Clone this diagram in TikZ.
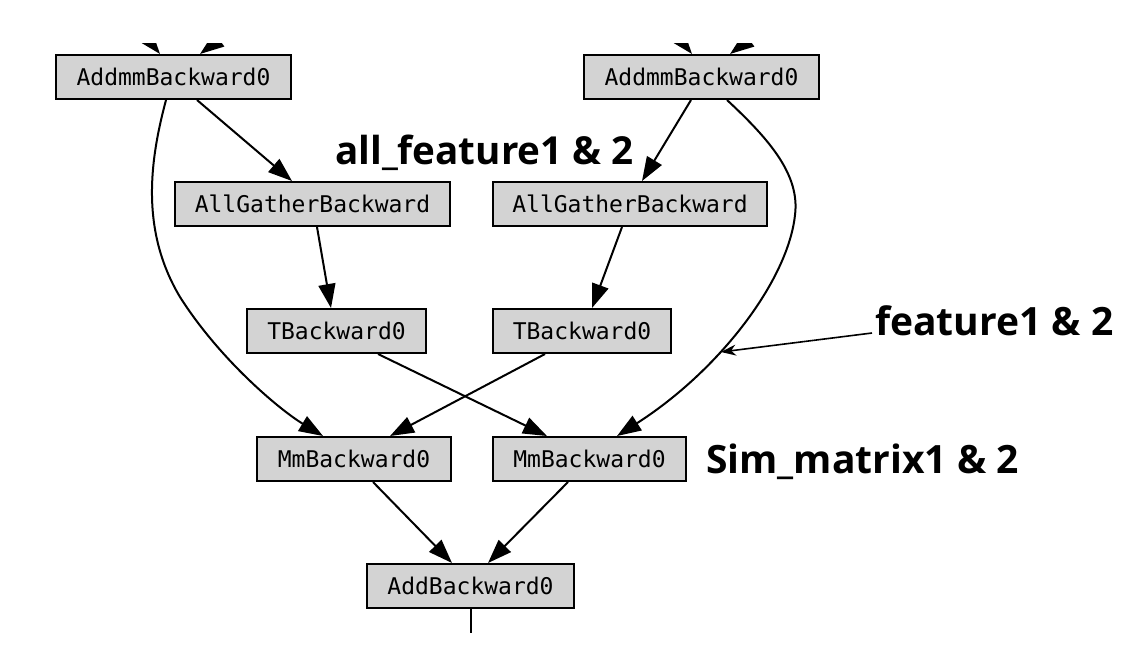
\documentclass[tikz,border=0pt]{standalone}
\usepackage{fontspec}
\newfontfamily\nodemono{DejaVu Sans Mono}
\newfontfamily\labfont{Open Sans}
\usetikzlibrary{arrows.meta}
\definecolor{boxgray}{RGB}{211,211,211}
\tikzset{
  gnode/.style={draw=black, line width=2pt, fill=boxgray, minimum height=44pt,
    inner sep=0pt, font=\nodemono\fontsize{23}{26}\selectfont},
  gedge/.style={line width=2pt, -{Triangle[length=24pt,width=17pt]}},
  glabel/.style={inner sep=0pt, font=\labfont\bfseries\fontsize{39}{44}\selectfont},
  pointer/.style={line width=1.6pt, -{Stealth[length=15pt,width=11pt]}}
}
\begin{document}
\begin{tikzpicture}[x=1pt,y=-1pt]
\useasboundingbox (0,0) rectangle (1147,670);
% nodes
\node[gnode, minimum width=235pt] (A1) at (173.5,77) {AddmmBackward0};
\node[gnode, minimum width=235pt] (A2) at (701.5,77) {AddmmBackward0};
\node[gnode, minimum width=275pt] (G1) at (312.5,204) {AllGatherBackward};
\node[gnode, minimum width=274pt] (G2) at (630,204) {AllGatherBackward};
\node[gnode, minimum width=179pt] (T1) at (336.5,331) {TBackward0};
\node[gnode, minimum width=178pt] (T2) at (582,331) {TBackward0};
\node[gnode, minimum width=194pt] (M1) at (354,459) {MmBackward0};
\node[gnode, minimum width=193pt] (M2) at (589.5,459) {MmBackward0};
\node[gnode, minimum width=207pt] (Ad) at (470.5,586) {AddBackward0};
% labels
\node[glabel, anchor=base west, font=\labfont\bfseries\fontsize{38.6}{44}\selectfont] (lab1) at (335,164) {all\_feature1 \& 2};
\node[glabel, anchor=base west] (lab2) at (875,335) {feature1 \& 2};
\node[glabel, anchor=base west] (lab3) at (706,473) {Sim\_matrix1 \& 2};
% incoming edges from above (clipped)
\coordinate (in1) at (130,17);
\coordinate (in2) at (245,20);
\coordinate (in3) at (662,17);
\coordinate (in4) at (775,20);
\coordinate (outA) at (470.5,633);
\coordinate (ftip) at (721,352);
\begin{scope}
\clip (0,43) rectangle (1147,670);
\draw[gedge] (in1) -- ([xshift=-13.5pt]A1.north);
\draw[gedge] (in2) -- ([xshift=26.5pt]A1.north);
\draw[gedge] (in3) -- ([xshift=-9.5pt]A2.north);
\draw[gedge] (in4) -- ([xshift=28.5pt]A2.north);
\end{scope}
% edges
\draw[gedge] ([xshift=23.5pt]A1.south) -- ([xshift=-20.5pt]G1.north);
\draw[gedge] ([xshift=-7.5pt]A1.south) .. controls (150,160) and (140,230) .. (180,297)
   .. controls (220,360) and (280,410) .. ([xshift=-31pt]M1.north);
\draw[gedge] ([xshift=-10.5pt]A2.south) -- ([xshift=12pt]G2.north);
\draw[gedge] ([xshift=25.5pt]A2.south) .. controls (770,140) and (800,175) .. (795,215)
   .. controls (788,280) and (720,370) .. ([xshift=27.5pt]M2.north);
\draw[gedge] ([xshift=4.5pt]G1.south) -- ([xshift=-5.5pt]T1.north);
\draw[gedge] ([xshift=-8pt]G2.south) -- ([xshift=10pt]T2.north);
\draw[gedge] ([xshift=41.5pt]T1.south) -- ([xshift=-42.5pt]M2.north);
\draw[gedge] ([xshift=-37pt]T2.south) -- ([xshift=36pt]M1.north);
\draw[gedge] ([xshift=19pt]M1.south) -- ([xshift=-18.5pt]Ad.north);
\draw[gedge] ([xshift=-21.5pt]M2.south) -- ([xshift=17.5pt]Ad.north);
\draw[line width=2pt] (Ad.south) -- (outA);
% pointer
\draw[pointer] ([xshift=-3pt,yshift=2pt]lab2.base west) -- (ftip);
\end{tikzpicture}
\end{document}
